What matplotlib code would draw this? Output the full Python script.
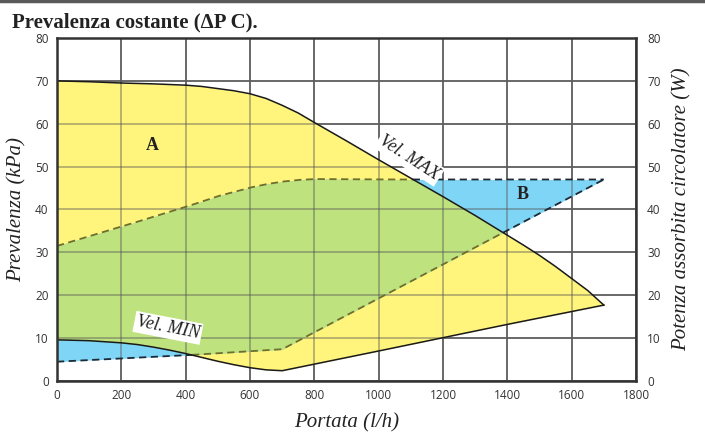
import numpy as np
import matplotlib
matplotlib.use("Agg")
import matplotlib.pyplot as plt
from matplotlib.lines import Line2D

# ---- data ----
max_x = [0, 100, 200, 300, 400, 450, 500, 550, 600, 650, 700, 750, 800, 900, 1000, 1100,
         1200, 1300, 1400, 1450, 1500, 1550, 1600, 1650, 1700]
max_y = [70, 69.8, 69.5, 69.3, 69, 68.7, 68.2, 67.7, 67, 65.9, 64.3, 62.5, 60.3, 56, 51.6, 47.3,
         43, 38.6, 34, 31.7, 29.3, 26.7, 23.9, 21.1, 17.7]

min_x = [0, 100, 200, 250, 300, 350, 400, 450, 500, 550, 600, 650, 700, 1000, 1400, 1700]
min_y = [9.6, 9.4, 8.9, 8.5, 7.9, 7.2, 6.4, 5.5, 4.6, 3.8, 3.1, 2.6, 2.4, 7.0, 13.2, 17.7]

pw_up_x = [0, 200, 400, 500, 600, 650, 700, 750, 800, 1000, 1700]
pw_up_y = [31.5, 36, 40.6, 43.1, 45.1, 45.9, 46.5, 46.9, 47.1, 47, 47]

pw_lo_x = [0, 400, 700, 1700]
pw_lo_y = [4.5, 6.0, 7.4, 47]

x_ticks = [0, 200, 400, 600, 800, 1000, 1200, 1400, 1600, 1800]
y_ticks = [0, 10, 20, 30, 40, 50, 60, 70, 80]

title = "Prevalenza costante (\u0394P C)."
xlabel = "Portata (l/h)"
ylabel = "Prevalenza (kPa)"
ylabel2 = "Potenza assorbita circolatore (W)"

YELLOW = "#FFF47C"
BLUE = "#7FD5F5"
GREEN = "#BEE27E"
GRID = "#707070"

fig = plt.figure(figsize=(7.05, 4.38), dpi=100)
ax = fig.add_axes([57/705, 1-381/438, (636-57)/705, (381-38)/438])

xs = np.linspace(0, 1700, 3401)
upA = np.interp(xs, max_x, max_y)
loA = np.interp(xs, min_x, min_y)
upB = np.interp(xs, pw_up_x, pw_up_y)
loB = np.interp(xs, pw_lo_x, pw_lo_y)

# grid under fills
for t in x_ticks:
    ax.axvline(t, color=GRID, lw=1.3, zorder=1)
for t in y_ticks:
    ax.axhline(t, color=GRID, lw=1.3, zorder=1)

ax.fill_between(xs, loA, upA, color=YELLOW, lw=0, zorder=2)
ax.fill_between(xs, loB, upB, color=BLUE, lw=0, zorder=2)
lo = np.maximum(loA, loB)
hi = np.minimum(upA, upB)
ax.fill_between(xs, lo, hi, where=hi > lo, interpolate=True, color=GREEN, lw=0, zorder=3)

# grid over fills, translucent
for t in x_ticks:
    ax.axvline(t, color="#555555", lw=1.3, alpha=0.45, zorder=4)
for t in y_ticks:
    ax.axhline(t, color="#555555", lw=1.3, alpha=0.45, zorder=4)

# curves
ax.plot(max_x, max_y, color="#1a1a1a", lw=1.1, zorder=6, solid_joinstyle="round")
ax.plot(min_x, min_y, color="#1a1a1a", lw=1.1, zorder=6, solid_joinstyle="round")

# dashed power limits: olive inside region A, dark outside
for px, py in [(pw_up_x, pw_up_y), (pw_lo_x, pw_lo_y)]:
    yy = np.interp(xs, px, py)
    inside = (yy > loA + 0.05) & (yy < upA - 0.05)
    y_in = np.where(inside, yy, np.nan)
    y_out = np.where(~inside, yy, np.nan)
    ax.plot(xs, y_in, color="#6f6f2c", lw=1.3, ls=(0, (4, 2.5)), zorder=5)
    ax.plot(xs, y_out, color="#1c2a38", lw=1.3, ls=(0, (4, 2.5)), zorder=5)

# labels in plot
ax.text(295, 55, "A", fontfamily="Liberation Serif", fontweight="bold", fontsize=13,
        ha="center", va="center", color="#222222", zorder=8)
ax.text(1449, 43.6, "B", fontfamily="Liberation Serif", fontweight="bold", fontsize=13,
        ha="center", va="center", color="#222222", zorder=8)
ax.text(1095, 52, "Vel. MAX", fontfamily="Liberation Serif", fontstyle="italic", fontsize=13,
        rotation=-33, ha="center", va="center", color="#222222", zorder=8,
        bbox=dict(facecolor="white", edgecolor="none", pad=1.5))
ax.text(345, 12.4, "Vel. MIN", fontfamily="Liberation Serif", fontstyle="italic", fontsize=13,
        rotation=-11, ha="center", va="center", color="#222222", zorder=8,
        bbox=dict(facecolor="white", edgecolor="none", pad=1.5))

ax.set_xlim(0, 1800)
ax.set_ylim(0, 80)
ax.set_xticks(x_ticks)
ax.set_yticks(y_ticks)
ax.tick_params(length=0, labelsize=8.5, labelcolor="#333333", pad=6)
for lab in ax.get_xticklabels() + ax.get_yticklabels():
    lab.set_fontfamily("Open Sans")
ax.grid(False)
for s in ax.spines.values():
    s.set_color("#333333")
    s.set_linewidth(1.8)
    s.set_zorder(9)

ax2 = ax.twinx()
ax2.set_ylim(0, 80)
ax2.set_yticks(y_ticks)
ax2.tick_params(length=0, labelsize=8.5, labelcolor="#333333", pad=8)
for lab in ax2.get_yticklabels():
    lab.set_fontfamily("Open Sans")
for s in ax2.spines.values():
    s.set_visible(False)

ax.set_xlabel(xlabel, fontfamily="Liberation Serif", fontstyle="italic", fontsize=15, color="#222222", labelpad=8)
ax.set_ylabel(ylabel, fontfamily="Liberation Serif", fontstyle="italic", fontsize=15, color="#222222", labelpad=6)
ax2.set_ylabel(ylabel2, fontfamily="Liberation Serif", fontstyle="italic", fontsize=15, color="#222222", labelpad=8)

fig.text(12/705, 1-27/438, title, fontfamily="Liberation Serif", fontweight="bold", fontsize=15,
         color="#222222", ha="left", va="baseline")
fig.add_artist(Line2D([0, 1], [1-1/438, 1-1/438], transform=fig.transFigure, color="#5a5a5a", lw=2.5))

fig.savefig("out.png", dpi=100)
